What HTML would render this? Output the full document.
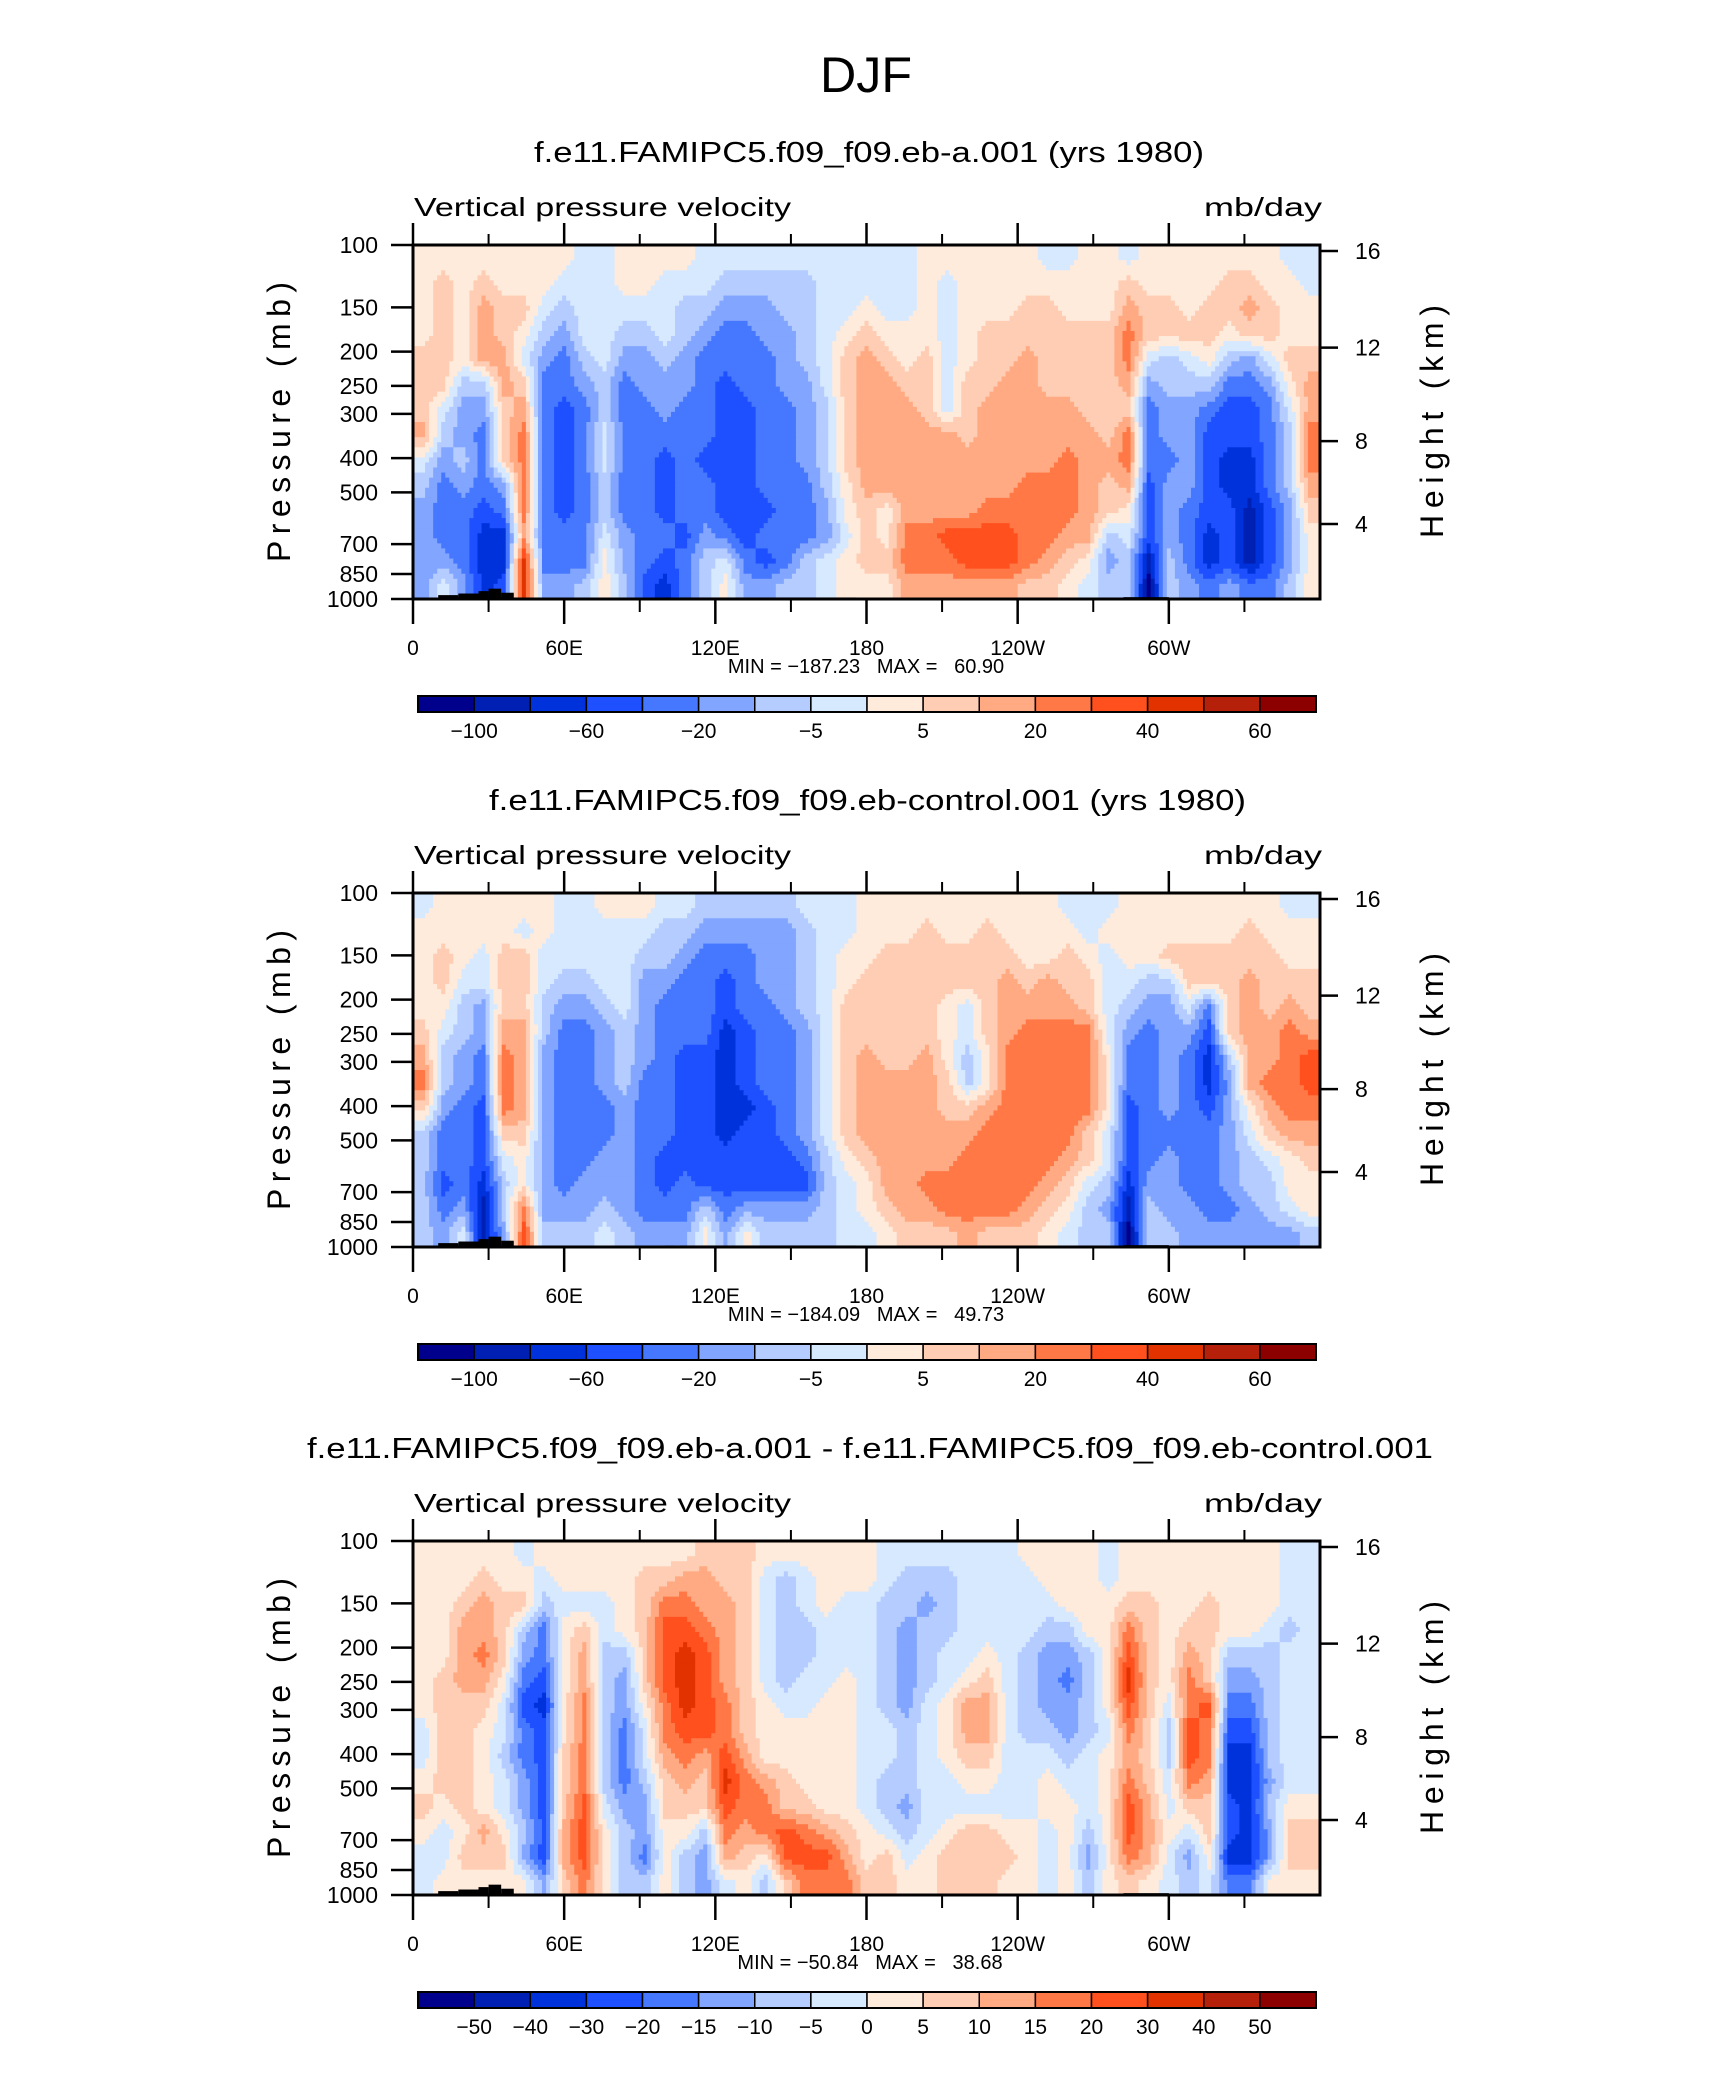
<!DOCTYPE html>
<html><head><meta charset="utf-8"><style>
html,body{margin:0;padding:0;background:#fff}
svg{display:block}
text{font-family:"Liberation Sans",sans-serif;fill:#000}
</style></head><body>
<svg id="fig" width="1710" height="2074" viewBox="0 0 1710 2074" xmlns="http://www.w3.org/2000/svg">
<rect width="1710" height="2074" fill="#fff"/>
<text x="866" y="92" font-size="50" text-anchor="middle" font-weight="300" textLength="92" lengthAdjust="spacingAndGlyphs">DJF</text>
</svg>
<script>
// ---------- data ----------
const colors = ["#00008c","#0020b4","#0032dc","#1e50ff","#4678ff","#82a5ff","#b4ccff","#d7e9ff","#ffebdc","#ffcdb4","#ffaa82","#ff7846","#ff501e","#e13200","#b4200a","#8c0000"];
const cbLabelsAbs = ["-100","","-60","","-20","","-5","","5","","20","","40","","60"];
const cbLabelsDiff = ["-50","-40","-30","-20","-15","-10","-5","0","5","10","15","20","30","40","50"];
const xTickLons = [0,60,120,180,240,300];
const xTickLabels = ["0","60E","120E","180","120W","60W"];
const xMinorLons = [30,90,150,210,270,330];
const pTicks = [100,150,200,250,300,400,500,700,850,1000];
const hTickLabels = ["16","12","8","4"];
const hTickP = [104,195,358,614];
const titles = ["f.e11.FAMIPC5.f09_f09.eb-a.001 (yrs 1980)","f.e11.FAMIPC5.f09_f09.eb-control.001 (yrs 1980)","f.e11.FAMIPC5.f09_f09.eb-a.001 - f.e11.FAMIPC5.f09_f09.eb-control.001"];
const titleX0 = [534, 489, 307];
const titleX1 = [1204, 1246, 1433];
const minMax = ["MIN = \u2212187.23   MAX =   60.90","MIN = \u2212184.09   MAX =   49.73","MIN = \u221250.84   MAX =   38.68"];
// class index per cell (hex 0..f), 14 log-p rows (top=100mb) x 45 lon columns (8 deg each)
const field1 = [
"8,8,8,8,8,8,8,8,7,7,8,8,8,8,7,7,7,7,7,7,7,7,7, 7,7,8,8,8,8,8,8,7,7,8,8,7,8,8,8,8,8,8,8,7,7",
"8,9,8,9,8,8,8,7,7,7,8,8,7,7,7,6,6,6,6,6,7,7,7, 7,7,8,7,8,8,8,8,8,8,8,8,9,8,8,8,8,9,9,8,8,7",
"8,9,8,a,9,9,7,6,7,7,7,7,7,6,6,5,5,5,6,6,7,7,8, 7,7,8,7,8,8,8,9,9,8,8,8,a,9,9,8,9,9,a,9,8,8",
"8,9,8,a,9,8,6,5,7,7,6,6,7,6,5,4,4,5,5,6,7,8,9, 8,8,8,7,8,9,9,9,9,9,9,9,b,9,9,9,9,8,9,9,8,8",
"9,9,8,a,a,7,5,4,6,7,5,5,6,5,4,4,4,4,5,6,7,9,a, 9,8,9,7,8,9,9,a,9,9,9,9,b,7,6,7,8,6,5,7,9,9",
"9,9,6,6,a,9,4,4,5,6,4,5,5,5,4,3,4,4,5,5,7,9,a, a,9,9,7,9,9,a,a,9,9,9,9,a,5,6,6,6,4,4,5,8,a",
"9,7,5,5,9,a,4,3,4,6,4,4,5,4,4,3,3,4,4,5,6,9,a, a,a,9,7,9,a,a,a,a,a,9,9,9,4,5,5,4,3,3,4,7,a",
"a,6,5,4,9,b,4,3,4,7,4,4,4,4,4,3,3,4,4,5,6,9,a, a,a,a,a,9,a,a,a,a,a,a,9,b,4,5,5,3,3,3,4,6,b",
"7,5,6,4,9,b,4,3,4,7,4,4,3,4,3,3,3,4,4,5,6,9,a, a,a,a,a,a,a,a,a,a,b,a,a,b,4,4,5,3,2,2,4,6,b",
"6,4,5,4,5,b,4,3,4,6,4,4,3,4,4,3,3,4,4,4,6,8,a, a,a,a,a,a,a,a,b,b,b,a,9,a,3,5,5,3,2,2,4,6,a",
"5,4,4,3,4,b,4,3,4,6,4,4,3,4,4,3,3,3,4,4,5,8,9, 8,a,a,a,a,b,b,b,b,b,a,9,8,3,5,4,3,3,1,3,5,9",
"5,4,4,2,2,a,4,4,4,7,5,4,4,3,5,4,3,4,4,4,5,7,9, 8,b,b,c,c,c,c,b,b,a,a,6,7,3,5,4,2,3,1,3,5,8",
"5,5,4,2,2,d,4,4,4,8,5,4,3,4,6,7,4,3,4,6,7,8,9, 9,b,b,b,c,c,c,b,a,9,8,5,6,1,6,4,2,3,1,3,5,8",
"5,7,5,2,3,d,5,5,6,8,6,3,2,4,6,8,5,5,6,6,7,8,8, 8,a,a,a,a,a,a,9,9,8,7,6,6,0,6,5,4,5,4,4,6,8"
];
const field2 = [
"7,8,8,8,8,8,8,7,7,8,8,8,7,7,6,6,6,6,6,7,7,7,8,8,8,8,8,8,8,8,8,8,7,7,7,8,8,8,8,8,8,8,8,7,7",
"8,8,8,8,8,7,8,7,7,7,7,7,6,6,5,5,5,5,5,6,7,7,8,8,8,9,8,8,9,8,8,8,8,7,8,8,8,8,8,8,8,9,8,8,8",
"8,9,8,7,9,9,7,7,7,7,7,6,6,5,4,4,4,5,5,6,7,8,8,9,9,9,9,9,9,9,8,8,9,8,7,8,8,9,9,9,9,9,9,8,8",
"8,9,7,7,9,9,7,6,6,7,7,5,5,4,4,3,4,5,5,6,7,8,9,9,9,9,9,9,9,a,9,a,9,9,7,7,6,6,9,9,9,a,9,9,9",
"8,8,6,5,9,9,6,5,5,6,7,5,4,4,4,3,4,4,5,6,7,9,9,9,9,9,8,7,9,a,a,a,a,9,7,6,5,5,7,4,9,a,9,a,9",
"9,7,6,5,a,a,6,4,4,5,6,5,4,4,4,2,3,4,4,5,7,9,9,9,9,9,8,7,9,a,b,b,b,b,7,5,4,5,5,3,9,a,a,b,a",
"a,6,5,4,b,a,5,4,4,5,6,5,4,3,3,2,3,4,4,5,7,9,a,9,9,a,8,6,8,b,b,b,b,b,8,4,4,5,4,2,6,a,a,b,c",
"b,6,5,4,b,a,5,4,4,5,6,4,4,3,3,2,3,4,4,5,7,9,a,a,a,a,9,6,8,b,b,b,b,b,8,4,4,5,4,2,5,a,b,b,c",
"9,5,4,3,b,a,5,4,4,4,5,4,4,3,3,2,2,3,4,5,7,9,a,a,a,a,9,9,a,b,b,b,b,b,8,3,4,5,4,3,5,8,a,b,b",
"6,4,4,3,9,9,5,4,4,4,5,4,4,3,3,2,3,3,4,5,7,9,a,a,a,a,a,a,b,b,b,b,b,9,7,3,4,4,4,4,5,7,9,a,a",
"6,4,4,3,7,8,5,4,4,5,5,4,3,3,3,3,3,3,3,4,6,8,9,a,a,a,a,b,b,b,b,b,a,9,7,3,4,5,4,4,5,6,7,8,9",
"6,3,4,2,6,8,5,4,5,5,5,4,3,4,3,3,3,3,3,3,6,7,8,a,a,b,b,b,b,b,b,a,9,7,6,2,5,5,4,4,5,6,6,8,8",
"6,4,5,1,6,b,5,5,5,6,5,4,4,4,6,4,5,5,5,5,6,7,8,9,a,a,b,b,b,b,a,9,8,6,5,1,6,5,5,4,4,5,6,7,8",
"6,5,7,1,5,c,6,6,6,7,6,5,5,5,8,5,8,6,6,6,6,7,7,8,9,9,9,a,9,9,9,8,7,6,6,0,6,6,5,5,5,5,5,5,6"
];
const field3 = [
"8,8,8,8,8, 7,8,8,8,8, 8,8,8,8,9, 9,9,8,8,8, 8,8,8,7,7, 7,7,7,7,7, 8,8,8,8,7, 8,8,8,8,8, 8,8,8,7,7",
"8,8,8,9,8, 8,7,8,8,8, 8,9,9,a,a, 9,9,7,6,7, 8,8,8,7,6, 6,6,7,7,7, 7,8,8,8,7, 8,8,8,8,8, 8,8,8,7,7",
"8,8,9,a,9, 9,6,7,7,7, 8,9,b,b,a, a,9,7,6,7, 8,7,7,6,6, 5,6,7,7,7, 7,7,8,8,8, 9,9,8,8,9, 8,8,8,7,7",
"8,8,a,a,9, 6,4,8,9,7, 8,9,c,c,b, a,9,7,6,6, 7,7,7,6,5, 6,6,7,7,7, 7,6,6,8,8, b,9,8,9,9, 8,8,7,6,7",
"8,8,a,b,9, 5,4,8,a,6, 6,9,c,d,c, a,9,7,6,6, 7,7,7,6,5, 6,7,7,8,7, 6,5,5,6,8, c,9,8,a,9, 6,6,6,7,7",
"8,9,a,a,8, 4,3,8,a,6, 5,9,c,d,c, a,9,7,6,7, 7,8,7,6,5, 6,7,8,9,7, 6,5,4,6,8, d,9,8,b,9, 5,5,6,7,7",
"8,9,9,9,7, 3,2,8,b,6, 5,8,b,d,c, b,9,8,7,7, 8,8,7,6,5, 7,8,a,a,7, 6,5,5,6,8, c,9,7,b,c, 4,4,6,7,7",
"7,9,9,8,7, 4,3,8,b,6, 4,7,b,c,c, b,9,8,8,8, 8,8,7,7,6, 7,8,a,a,7, 6,6,5,6,7, b,9,6,c,b, 3,3,6,7,7",
"7,9,9,8,6, 4,3,9,b,6, 4,7,a,b,a, c,a,8,8,8, 8,8,7,7,6, 7,8,9,9,7, 7,7,6,7,8, a,9,6,c,b, 2,2,6,7,7",
"8,9,9,8,7, 5,3,9,b,6, 4,6,9,a,9, d,b,a,9,8, 8,8,7,6,6, 7,7,8,8,7, 7,8,7,7,8, b,9,7,b,a, 2,2,5,7,7",
"9,8,9,8,7, 5,3,9,c,7, 5,5,9,9,9, c,b,b,9,9, 8,8,7,6,5, 7,7,7,7,7, 7,8,8,7,8, c,a,7,9,9, 3,2,6,8,8",
"8,7,8,a,8, 6,3,a,c,8, 6,5,8,8,6, b,a,b,c,b, a,9,8,7,6, 7,8,9,9,8, 8,7,8,6,8, c,a,8,7,9, 3,2,5,9,9",
"7,7,9,9,9, 5,3,a,c,8, 6,4,8,6,5, a,9,8,c,c, c,a,8,9,7, 8,9,9,9,9, 8,7,8,5,8, b,a,7,5,8, 2,2,5,9,9",
"7,8,8,8,8, 8,5,9,b,8, 6,6,8,6,5, 7,8,6,9,b, b,b,9,9,8, 8,9,9,9,8, 8,7,8,6,8, 9,8,7,6,7, 4,4,8,8,8"
];
const fields = [field1, field2, field3];
// topography (lon start, lon end, top pressure)
const topoLon0 = [10,18,26,30,35,100,106,282];
const topoLon1 = [18,26,30,35,40,104,176,300];
const topoP    = [975,965,950,935,960,990,990,988];

// ---------- layout ----------
const NS = "http://www.w3.org/2000/svg";
const svg = document.getElementById("fig");
const X0 = 413, W = 907, H = 354, TOPS = [245, 893, 1541];
const NC = 45, NR = 14, S = 5;
function mk(tag, attrs, parent){ const e=document.createElementNS(NS,tag); for(const k in attrs) e.setAttribute(k,attrs[k]); (parent||svg).appendChild(e); return e; }
function xScale(lon){ return X0 + lon/360*W; }
function yScale(p, top){ return top + Math.log10(p/100)*H; }
function norm(row){ row=row.replace(/[^0-9a-f]/g,""); while(row.length<NC) row+=row[row.length-1]; return row.slice(0,NC); }

fields.forEach((field, pi) => {
  const top = TOPS[pi];
  const grid = field.map(r => norm(r).split("").map(ch => parseInt(ch,16)));
  const panel = mk("g", {});
  
  
  const tw = titleX1[pi]-titleX0[pi];
  const title = mk("text", {x: titleX0[pi], y: top-83, "font-size": 29, textLength: tw, lengthAdjust: "spacingAndGlyphs"}, panel);
  
  
  title.textContent = titles[pi];
  const vp = mk("text", {x: 414, y: top-29, "font-size": 26, textLength: 377, lengthAdjust: "spacingAndGlyphs"}, panel);
  
  
  vp.textContent = "Vertical pressure velocity";
  const un = mk("text", {x: 1204, y: top-29, "font-size": 26, textLength: 118, lengthAdjust: "spacingAndGlyphs"}, panel);
  
  
  un.textContent = "mb/day";
  // heatmap (bilinear-smoothed cell classes)
  const hg = mk("g", {}, panel);
  
  
  const NX = NC*S, NY = NR*S, sw = W/NX, sh = H/NY;
  function val(fy, fx){
    fy = Math.max(0, Math.min(NR-1, fy)); fx = Math.max(0, Math.min(NC-1, fx));
    const r0 = Math.floor(fy), c0 = Math.floor(fx), r1 = Math.min(NR-1, r0+1), c1 = Math.min(NC-1, c0+1);
    const ty = fy-r0, tx = fx-c0;
    return (grid[r0][c0]*(1-tx)+grid[r0][c1]*tx)*(1-ty) + (grid[r1][c0]*(1-tx)+grid[r1][c1]*tx)*ty;
  }
  for (let j=0;j<NY;j++){
    const fy = (j+0.5)/S-0.5;
    let runStart = 0, runK = -1;
    for (let i=0;i<=NX;i++){
      const k = i<NX ? Math.max(0, Math.min(15, Math.round(val(fy, (i+0.5)/S-0.5)))) : -2;
      if (k !== runK){
        if (runK >= 0){
          const cell = mk("rect", {x: X0+runStart*sw, y: top+j*sh, width: (i-runStart)*sw+0.5, height: sh+0.5, fill: colors[runK]}, hg);
          
          
        }
        runStart = i; runK = k;
      }
    }
  }
  // topography
  topoLon0.forEach((l0, i) => {
    const ty = yScale(topoP[i], top);
    const t = mk("rect", {x: xScale(l0), y: ty, width: xScale(topoLon1[i])-xScale(l0), height: top+H-ty, fill: "#000"}, panel);
    
    
  });
  // frame
  const fr = mk("rect", {x: X0, y: top, width: W, height: H, fill: "none", stroke: "#000", "stroke-width": 3}, panel);
  
  
  // x ticks
  xTickLons.forEach((lon, i) => {
    const x = xScale(lon);
    mk("line", {x1:x, x2:x, y1:top-22, y2:top, stroke:"#000","stroke-width":2.5}, panel);
    mk("line", {x1:x, x2:x, y1:top+H, y2:top+H+25, stroke:"#000","stroke-width":2.5}, panel);
    const t = mk("text", {x:x, y:top+H+56, "font-size":21, "text-anchor":"middle"}, panel);
    
    
    t.textContent = xTickLabels[i];
  });
  xMinorLons.forEach(lon => {
    const x = xScale(lon);
    mk("line", {x1:x, x2:x, y1:top-11, y2:top, stroke:"#000","stroke-width":2}, panel);
    mk("line", {x1:x, x2:x, y1:top+H, y2:top+H+13, stroke:"#000","stroke-width":2}, panel);
  });
  // pressure ticks
  pTicks.forEach(p => {
    const y = yScale(p, top);
    mk("line", {x1:X0-22, x2:X0, y1:y, y2:y, stroke:"#000","stroke-width":2.5}, panel);
    const t = mk("text", {x:X0-35, y:y+8, "font-size":23, "text-anchor":"end"}, panel);
    
    
    t.textContent = String(p);
  });
  // height ticks
  hTickP.forEach((p, i) => {
    const y = yScale(p, top);
    mk("line", {x1:X0+W, x2:X0+W+18, y1:y, y2:y, stroke:"#000","stroke-width":2.5}, panel);
    const t = mk("text", {x:X0+W+35, y:y+8, "font-size":23}, panel);
    
    
    t.textContent = hTickLabels[i];
  });
  const ytl = mk("text", {x:-140, y:0, "font-size":32, textLength: 280, lengthAdjust:"spacing", transform:"translate(290,"+(top+H/2)+") rotate(-90)"}, panel);
  
  
  ytl.textContent = "Pressure (mb)";
  const htl = mk("text", {x:-116, y:0, "font-size":32, textLength: 233, lengthAdjust:"spacing", transform:"translate(1443,"+(top+H/2)+") rotate(-90)"}, panel);
  
  
  htl.textContent = "Height (km)";
  const mm = mk("text", {x: pi===2?870:866, y: top+H+74, "font-size":20, "text-anchor":"middle", style:"white-space:pre"}, panel);
  
  
  mm.textContent = minMax[pi];
  // colorbar
  const cbx = 418, cbw = 898, cby = top+H+97, cbh = 16, n = colors.length;
  const cb = mk("g", {}, panel);
  
  
  colors.forEach((col, i) => {
    const s = mk("rect", {x: cbx+i*cbw/n, y: cby, width: cbw/n, height: cbh, fill: col, stroke:"#000", "stroke-width":1.5}, cb);
    
    
  });
  mk("rect", {x: cbx, y: cby, width: cbw, height: cbh, fill:"none", stroke:"#000", "stroke-width":2}, cb);
  const labs = pi===2 ? cbLabelsDiff : cbLabelsAbs;
  labs.forEach((lab, i) => {
    if (!lab) return;
    const t = mk("text", {x: cbx+(i+1)*cbw/n, y: cby+42, "font-size":21, "text-anchor":"middle"}, cb);
    
    
    t.textContent = lab.replace("-","\u2212");
  });
});
</script>
</body></html>
